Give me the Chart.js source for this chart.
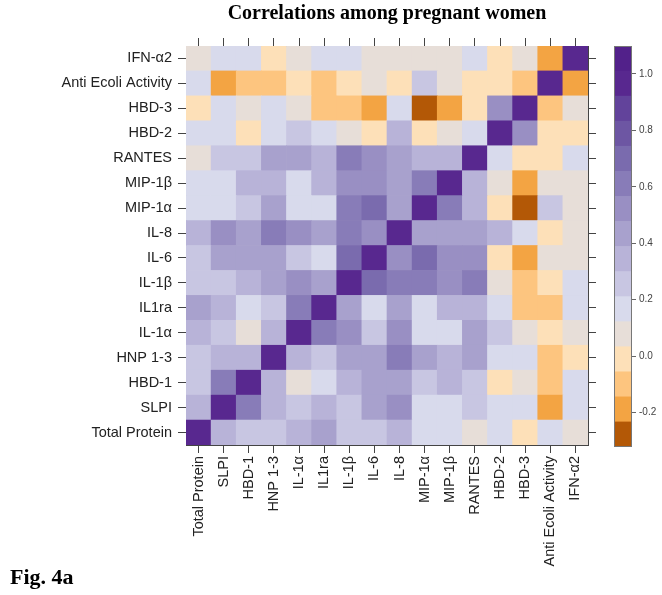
<!DOCTYPE html>
<html>
<head>
<meta charset="utf-8">
<title>Correlations among pregnant women</title>
<script src="https://cdn.jsdelivr.net/npm/chart.js@4.4.1/dist/chart.umd.min.js"></script>
<style>
    html, body { margin: 0; padding: 0; background: #fff; }
    #wrap { position: relative; width: 662px; height: 595px; overflow: hidden; }
    #heat { position: absolute; left: 0; top: 0; }
    #key { position: absolute; left: 600px; top: 0; }
    #title {
        position: absolute; left: 186px; top: 1px; width: 402px; text-align: center;
        font: bold 20px "Liberation Serif", "Times New Roman", serif; color: #000;
    }
    #fig {
        position: absolute; left: 10px; top: 564px;
        font: bold 22px "Liberation Serif", "Times New Roman", serif; color: #000;
    }
</style>
</head>
<body>
<div id="wrap">
    <canvas id="heat" width="600" height="595"></canvas>
    <canvas id="key" width="62" height="595"></canvas>
    <div id="title">Correlations among pregnant women</div>
    <div id="fig">Fig. 4a</div>
</div>
<script>
// variables, bottom row / left column first
const variables = ["Total Protein", "SLPI", "HBD-1", "HNP 1-3", "IL-1α", "IL1ra", "IL-1β", "IL-6",
    "IL-8", "MIP-1α", "MIP-1β", "RANTES", "HBD-2", "HBD-3", "Anti Ecoli Activity", "IFN-α2"];

// correlation matrix (row i = variables[i])
const corr = [
    [1, 0.34, 0.25, 0.25, 0.34, 0.43, 0.25, 0.25, 0.34, 0.17, 0.17, 0.08, 0.17, -0.01, 0.17, 0.08],
    [0.34, 1, 0.61, 0.34, 0.25, 0.34, 0.25, 0.43, 0.52, 0.17, 0.17, 0.25, 0.17, 0.17, -0.19, 0.17],
    [0.25, 0.61, 1, 0.34, 0.08, 0.17, 0.34, 0.43, 0.43, 0.25, 0.34, 0.25, -0.01, 0.08, -0.10, 0.17],
    [0.25, 0.34, 0.34, 1, 0.34, 0.25, 0.43, 0.43, 0.61, 0.43, 0.34, 0.43, 0.17, 0.17, -0.10, -0.01],
    [0.34, 0.25, 0.08, 0.34, 1, 0.61, 0.52, 0.25, 0.52, 0.17, 0.17, 0.43, 0.25, 0.08, -0.01, 0.08],
    [0.43, 0.34, 0.17, 0.25, 0.61, 1, 0.43, 0.17, 0.43, 0.17, 0.34, 0.34, 0.17, -0.10, -0.10, 0.17],
    [0.25, 0.25, 0.34, 0.43, 0.52, 0.43, 1, 0.70, 0.61, 0.61, 0.52, 0.61, 0.08, -0.10, -0.01, 0.17],
    [0.25, 0.43, 0.43, 0.43, 0.25, 0.17, 0.70, 1, 0.52, 0.70, 0.52, 0.52, -0.01, -0.19, 0.08, 0.08],
    [0.34, 0.52, 0.43, 0.61, 0.52, 0.43, 0.61, 0.52, 1, 0.43, 0.43, 0.43, 0.34, 0.17, -0.01, 0.08],
    [0.17, 0.17, 0.25, 0.43, 0.17, 0.17, 0.61, 0.70, 0.43, 1, 0.61, 0.34, -0.01, -0.28, 0.25, 0.08],
    [0.17, 0.17, 0.34, 0.34, 0.17, 0.34, 0.52, 0.52, 0.43, 0.61, 1, 0.34, 0.08, -0.19, 0.08, 0.08],
    [0.08, 0.25, 0.25, 0.43, 0.43, 0.34, 0.61, 0.52, 0.43, 0.34, 0.34, 1, 0.17, -0.01, -0.01, 0.17],
    [0.17, 0.17, -0.01, 0.17, 0.25, 0.17, 0.08, -0.01, 0.34, -0.01, 0.08, 0.17, 1, 0.52, -0.01, -0.01],
    [-0.01, 0.17, 0.08, 0.17, 0.08, -0.10, -0.10, -0.19, 0.17, -0.28, -0.19, -0.01, 0.52, 1, -0.10, 0.08],
    [0.17, -0.19, -0.10, -0.10, -0.01, -0.10, -0.01, 0.08, -0.01, 0.25, 0.08, -0.01, -0.01, -0.10, 1, -0.19],
    [0.08, 0.17, 0.17, -0.01, 0.08, 0.17, 0.17, 0.08, 0.08, 0.08, 0.08, 0.17, -0.01, 0.08, -0.19, 1]
];

// colour key
const keyMin = -0.322;
const keyMax = 1.099;
const keyTicks = [-0.2, 0.0, 0.2, 0.4, 0.6, 0.8, 1.0];
const keyColors = ["#b35806", "#f3a443", "#fdc57f", "#fde0b8", "#e7ded8", "#d8daec", "#c8c6e2", "#b8b3d8",
    "#a8a1cd", "#998fc3", "#887cb8", "#7a6bae", "#6d56a3", "#62439b", "#58288f", "#52218a"];

const labelFont = { family: "'Liberation Sans', Arial, sans-serif", size: 14.5 };
const frameColor = "#444";

function keyIndex(v) {
    let k = Math.floor((v - keyMin) / (keyMax - keyMin) * keyColors.length);
    return Math.max(0, Math.min(keyColors.length - 1, k));
}

function colorFor(v) {
    return keyColors[keyIndex(v)];
}

function centreTicks(scale) {
    scale.ticks = variables.map((name, i) => ({ value: i + 0.5 }));
}

const tickGrid = { drawOnChartArea: false, drawTicks: true, tickLength: 8, color: frameColor, offset: false };

const rowDatasets = variables.map((name, i) => ({
    label: name,
    data: variables.map(() => 1),
    backgroundColor: corr[i].map(colorFor),
    borderWidth: 0,
    barPercentage: 1,
    categoryPercentage: 1
}));

new Chart("heat", {
    type: "bar",
    data: { labels: variables, datasets: rowDatasets },
    options: {
        responsive: false,
        animation: false,
        layout: { padding: 0 },
        plugins: { legend: { display: false }, tooltip: { enabled: false } },
        scales: {
            x: {
                stacked: true,
                grid: tickGrid,
                border: { display: true, color: frameColor },
                ticks: { minRotation: 90, maxRotation: 90, autoSkip: false, padding: 3, color: "#222", font: labelFont },
                afterFit: s => { s.height = 150; }
            },
            x2: {
                type: "category",
                position: "top",
                labels: variables,
                grid: tickGrid,
                border: { display: true, color: frameColor },
                ticks: { display: false },
                afterFit: s => { s.height = 46; }
            },
            y: {
                stacked: true,
                min: 0,
                max: 16,
                grid: tickGrid,
                border: { display: true, color: frameColor },
                afterBuildTicks: centreTicks,
                ticks: { autoSkip: false, padding: 6, color: "#222", font: labelFont,
                    callback: (value, index) => variables[index] },
                afterFit: s => { s.width = 186; }
            },
            y2: {
                type: "linear",
                position: "right",
                min: 0,
                max: 16,
                grid: tickGrid,
                border: { display: true, color: frameColor },
                afterBuildTicks: centreTicks,
                ticks: { display: false },
                afterFit: s => { s.width = 12; }
            }
        }
    }
});

// colour key as floating bars, one per level
const keyStep = (keyMax - keyMin) / keyColors.length;
const keyDatasets = keyColors.map((c, k) => ({
    data: [[keyMin + k * keyStep, keyMin + (k + 1) * keyStep]],
    backgroundColor: c,
    borderWidth: 0,
    grouped: false,
    barPercentage: 1,
    categoryPercentage: 1
}));

const keyFrame = {
    id: "keyFrame",
    afterDraw(chart) {
        const a = chart.chartArea;
        const ctx = chart.ctx;
        ctx.save();
        ctx.strokeStyle = "#777";
        ctx.lineWidth = 1;
        ctx.strokeRect(a.left + 0.5, a.top + 0.5, a.right - a.left - 1, a.bottom - a.top - 1);
        ctx.restore();
    }
};

new Chart("key", {
    type: "bar",
    data: { labels: [""], datasets: keyDatasets },
    options: {
        responsive: false,
        animation: false,
        layout: { padding: { left: 14, top: 46, bottom: 148 } },
        plugins: { legend: { display: false }, tooltip: { enabled: false } },
        scales: {
            x: { display: false },
            y: {
                position: "right",
                min: keyMin,
                max: keyMax,
                grid: { drawOnChartArea: false, drawTicks: true, tickLength: 4, color: "#666" },
                border: { display: false },
                afterBuildTicks: s => { s.ticks = keyTicks.map(v => ({ value: v })); },
                ticks: { padding: 3, color: "#444", font: { family: "'Liberation Sans', Arial, sans-serif", size: 10 },
                    callback: v => v.toFixed(1) },
                afterFit: s => { s.width = 30; }
            }
        }
    },
    plugins: [keyFrame]
});
</script>
</body>
</html>
